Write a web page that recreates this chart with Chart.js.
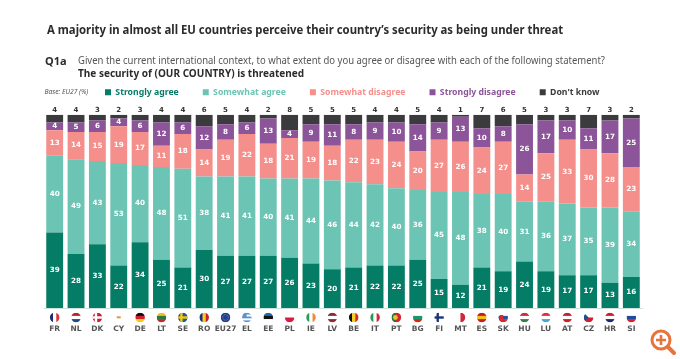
<!DOCTYPE html>
<html><head><meta charset="utf-8">
<script src="https://cdn.jsdelivr.net/npm/chart.js@4/dist/chart.umd.min.js"></script>
<style>
html,body{margin:0;padding:0;background:#fff;width:680px;height:359px;overflow:hidden}
#wrap{position:relative;width:680px;height:359px}
canvas{position:absolute;left:0;top:0}
.t{position:absolute;white-space:nowrap;font-family:"Noto Sans",sans-serif;color:#333;transform-origin:0 50%}
svg{position:absolute;left:0;top:0}
</style></head><body>
<div id="wrap">
<canvas id="c" width="680" height="359"></canvas>
<div class="t" style="left:47px;top:21px;font-size:12.4px;font-weight:700;color:#2c2c2c;transform:scaleX(.915)">A majority in almost all EU countries perceive their country’s security as being under threat</div>
<div class="t" style="left:45px;top:53px;font-size:11px;font-weight:700;color:#2c2c2c">Q1a</div>
<div class="t" style="left:77.5px;top:53px;font-size:10.5px;color:#555;transform:scaleX(.905)">Given the current international context, to what extent do you agree or disagree with each of the following statement?</div>
<div class="t" style="left:77.5px;top:66px;font-size:10.5px;font-weight:700;color:#2c2c2c;transform:scaleX(.955)">The security of (OUR COUNTRY) is threatened</div>
<div class="t" style="left:44.5px;top:87px;font-size:6.7px;font-style:italic;color:#555">Base: EU27 (%)</div>
<svg width="680" height="359" viewBox="0 0 680 359">
<circle cx="661" cy="340" r="9" fill="#fff" stroke="#E8743B" stroke-width="3"/>
<line x1="668" y1="347" x2="674" y2="353" stroke="#E8743B" stroke-width="4" stroke-linecap="round"/>
<path d="M661 335v10M656 340h10" stroke="#E8743B" stroke-width="2.6"/>
</svg>
</div>
<script>
const categories=["FR","NL","DK","CY","DE","LT","SE","RO","EU27","EL","EE","PL","IE","LV","BE","IT","PT","BG","FI","MT","ES","SK","HU","LU","AT","CZ","HR","SI"];
const stronglyAgree=[39,28,33,22,34,25,21,30,27,27,27,26,23,20,21,22,22,25,15,12,21,19,24,19,17,17,13,16];
const somewhatAgree=[40,49,43,53,40,48,51,38,41,41,40,41,44,46,44,42,40,36,45,48,38,40,31,36,37,35,39,34];
const somewhatDisagree=[13,14,15,19,17,11,18,14,19,22,18,21,19,18,22,23,24,20,27,26,24,27,14,25,33,30,28,23];
const stronglyDisagree=[4,5,6,4,6,12,6,12,8,6,13,4,9,11,8,9,10,14,9,13,10,8,26,17,10,11,17,25];
const dontKnow=[4,4,3,2,3,4,4,6,5,4,2,8,5,5,5,4,4,5,4,1,7,6,5,3,3,7,3,2];

const flags={
FR:["v","#1b2f6e","#fff","#e0323c"],NL:["h","#b5262e","#fff","#21468b"],DK:["c","#c8203a","#fff"],
CY:["cy"],DE:["h","#111","#d3202a","#f6c915"],LT:["h","#f3c11c","#2a7a43","#bf2a32"],
SE:["c","#1a5c9c","#f5c811"],RO:["v","#1b2f80","#f6cd15","#c9202f"],EU27:["eu"],EL:["el"],
EE:["h","#1a6cb0","#111","#fff"],PL:["h","#fff","#d81e3c"],IE:["v","#2a9a5f","#fff","#f08a36"],
LV:["h","#8e2a3a","#fff","#8e2a3a"],BE:["v","#111","#f6d021","#d8282e"],IT:["v","#239a50","#fff","#cf2b37"],
PT:["pt"],BG:["h","#fff","#179a6b","#d62612"],FI:["c","#fff","#1c3578"],MT:["v","#fff","#d0283a"],
ES:["h","#c61c24","#f6c210","#c61c24"],SK:["sk"],HU:["h","#c8303e","#fff","#3d7a4e"],LU:["h","#e0303c","#fff","#45a5dc"],
AT:["h","#c8202e","#fff","#c8202e"],CZ:["cz"],HR:["h","#d0202e","#fff","#1c2a78"],SI:["h","#fff","#1c4ea0","#d8202e"]};

const seriesDefs=[
["Strongly agree",stronglyAgree,"#047C66"],
["Somewhat agree",somewhatAgree,"#6CC4B4"],
["Somewhat disagree",somewhatDisagree,"#F58F8C"],
["Strongly disagree",stronglyDisagree,"#8C5499"],
["Don't know",dontKnow,"#3B3A3C"]];

function drawFlag(ctx,code,x,y,r){
  const f=flags[code],L=x-r,T=y-r,S=2*r;
  ctx.save();ctx.beginPath();ctx.arc(x,y,r,0,Math.PI*2);ctx.clip();
  ctx.fillStyle="#fff";ctx.fillRect(L,T,S,S);
  const k=f[0];
  if(k==="h"||k==="v"){const c=f.slice(1),n=c.length;
    c.forEach((col,i)=>{ctx.fillStyle=col;
      if(k==="h")ctx.fillRect(L,T+S*i/n,S,S/n+.3);else ctx.fillRect(L+S*i/n,T,S/n+.3,S);});
  }else if(k==="c"){ctx.fillStyle=f[1];ctx.fillRect(L,T,S,S);ctx.fillStyle=f[2];
    ctx.fillRect(L,y-1.2,S,2.4);ctx.fillRect(x-2.6,T,2.4,S);
  }else if(k==="cy"){ctx.fillStyle="#d99a4a";ctx.fillRect(x-2,y-1.2,4,2);
  }else if(k==="eu"){ctx.fillStyle="#1f3f9c";ctx.fillRect(L,T,S,S);ctx.strokeStyle="#c9b84a";ctx.lineWidth=.7;ctx.beginPath();ctx.arc(x,y,2.8,0,Math.PI*2);ctx.setLineDash([.8,.8]);ctx.stroke();
  }else if(k==="el"){for(let i=0;i<5;i++){ctx.fillStyle=i%2?"#fff":"#5b93cf";ctx.fillRect(L,T+S*i/5,S,S/5+.2);}ctx.fillStyle="#5b93cf";ctx.fillRect(L,T,4.5,4.5);
  }else if(k==="pt"){ctx.fillStyle="#d3262c";ctx.fillRect(L,T,S,S);ctx.fillStyle="#1f7a3d";ctx.fillRect(L,T,S*.42,S);ctx.fillStyle="#e6c22e";ctx.beginPath();ctx.arc(x-1,y,2.4,0,Math.PI*2);ctx.fill();
  }else if(k==="sk"){["#fff","#2a4fa0","#d8282e"].forEach((c,i)=>{ctx.fillStyle=c;ctx.fillRect(L,T+S*i/3,S,S/3+.2);});ctx.fillStyle="#d8282e";ctx.fillRect(x-3.5,y-2.5,3.6,4.5);
  }else if(k==="cz"){ctx.fillStyle="#fff";ctx.fillRect(L,T,S,r);ctx.fillStyle="#d0202e";ctx.fillRect(L,y,S,r);ctx.fillStyle="#1f4f8f";ctx.beginPath();ctx.moveTo(L,T);ctx.lineTo(x,y);ctx.lineTo(L,T+S);ctx.fill();}
  ctx.restore();
}

const barLabels={id:"barLabels",afterDatasetsDraw(chart){
  const ctx=chart.ctx;ctx.save();ctx.textAlign="center";ctx.textBaseline="middle";
  chart.data.datasets.forEach((ds,d)=>{
    const m=chart.getDatasetMeta(d);
    m.data.forEach((bar,i)=>{
      const v=ds.data[i];
      if(d===4){ctx.fillStyle="#333";ctx.font='700 7px "DejaVu Sans"';ctx.fillText(v,bar.x,bar.y-4.5);}
      else{ctx.fillStyle="#fff";ctx.font='700 7.2px "DejaVu Sans"';ctx.fillText(v,bar.x,(bar.y+bar.base)/2);}
    });
  });
  ctx.restore();
}};
const flagRow={id:"flagRow",afterDraw(chart){
  const x=chart.scales.x,ctx=chart.ctx,y=chart.chartArea.bottom+9.5;
  categories.forEach((c,i)=>drawFlag(ctx,c,x.getPixelForTick(i),y,4.8));
}};
const legendShift={id:"legendShift",afterLayout(chart){chart.legend.left=81;chart.legend.top=64;}};

new Chart(document.getElementById("c"),{
  type:"bar",
  data:{labels:categories,datasets:seriesDefs.map(s=>({label:s[0],data:s[1],backgroundColor:s[2],stack:"a",categoryPercentage:1,barPercentage:.79,borderWidth:0}))},
  options:{
    responsive:false,animation:false,devicePixelRatio:1,
    layout:{padding:{left:44,right:38,top:72,bottom:8}},
    scales:{
      x:{stacked:true,grid:{display:false,drawTicks:false},border:{display:true,color:"#cfe3de",width:1},
         ticks:{autoSkip:false,maxRotation:0,minRotation:0,padding:17,color:"#555",font:{family:"DejaVu Sans",size:7.5,weight:"700"}}},
      y:{stacked:true,display:false,min:0,max:100}
    },
    plugins:{
      title:{display:false},tooltip:{enabled:false},
      legend:{display:true,position:"top",align:"start",
        labels:{boxWidth:6,boxHeight:6,padding:24,font:{family:"Noto Sans",size:8.7,weight:"700"},
          generateLabels(chart){return chart.data.datasets.map((d,i)=>({text:d.label,fillStyle:d.backgroundColor,strokeStyle:d.backgroundColor,lineWidth:0,fontColor:i===0?"#047C66":d.backgroundColor,datasetIndex:i,hidden:false}));}}}
    }
  },
  plugins:[legendShift,barLabels,flagRow]
});
</script>
</body></html>
